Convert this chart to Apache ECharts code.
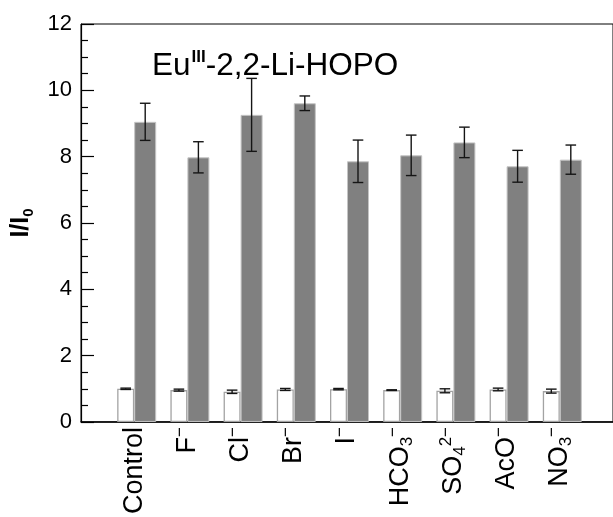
<!DOCTYPE html>
<html><head><meta charset="utf-8">
<script src="https://cdn.jsdelivr.net/npm/echarts@6/dist/echarts.min.js"></script>
<style>html,body{margin:0;padding:0;background:#fff}#c{width:613px;height:517px}</style>
</head><body><div id="c"></div>
<script>
// ---- data ----
const categories = ['Control', 'F-', 'Cl-', 'Br-', 'I-', 'HCO3-', 'SO42-', 'AcO-', 'NO3-'];
const tickLabels = ['{n|Control}', '{n|F}{sp|−}', '{n|Cl}{sp|−}', '{n|Br}{sp|−}', '{n|I}{sp|−}',
  '{n|HCO}{sb|3}{sp|−}', '{n|SO}{sb|4}{sp|2−}', '{n|AcO}{sp|−}', '{n|NO}{sb|3}{sp|−}'];
const before = [1.00, 0.96, 0.91, 0.98, 0.99, 0.96, 0.94, 0.98, 0.93];
const beforeErr = [0.02, 0.03, 0.05, 0.03, 0.02, 0.01, 0.06, 0.04, 0.06];
const after = [9.05, 7.98, 9.26, 9.61, 7.86, 8.04, 8.43, 7.71, 7.91];
const afterErr = [0.56, 0.47, 1.10, 0.22, 0.64, 0.61, 0.46, 0.48, 0.44];
const yTickValues = [0, 2, 4, 6, 8, 10, 12];

// ---- chart ----
const axisCats = [''].concat(categories, ['']);
const pad = arr => [null].concat(arr, [null]);
const FONT = 'Liberation Sans, Arial, sans-serif';
const W_SPACER = 5, W_WHITE = 17, W_GRAY = 22;

function errSeries(vals, errs, offset) {
  return {
    type: 'custom', z: 10, silent: true,
    renderItem: function (params, api) {
      const x = api.value(0), lo = api.value(1), hi = api.value(2);
      const pLo = api.coord([x, lo]), pHi = api.coord([x, hi]);
      const cx = pLo[0] + offset, hw = 5.3;
      const st = { stroke: '#151515', lineWidth: 1.4 };
      return { type: 'group', children: [
        { type: 'line', shape: { x1: cx, y1: pHi[1], x2: cx, y2: pLo[1] }, style: st },
        { type: 'line', shape: { x1: cx - hw, y1: pHi[1], x2: cx + hw, y2: pHi[1] }, style: st },
        { type: 'line', shape: { x1: cx - hw, y1: pLo[1], x2: cx + hw, y2: pLo[1] }, style: st }
      ]};
    },
    encode: { x: 0, y: [1, 2] },
    data: vals.map((v, i) => [i + 1, v - errs[i], v + errs[i]])
  };
}

const chart = echarts.init(document.getElementById('c'), null, { renderer: 'canvas' });
chart.setOption({
  animation: false,
  backgroundColor: '#fff',
  textStyle: { fontFamily: FONT },
  title: {
    text: '{a|Eu}{s|III}{a|-2,2-Li-HOPO}',
    left: 147, top: 42,
    textStyle: {
      fontWeight: 'normal',
      rich: {
        a: { fontFamily: FONT, fontSize: 31.5, fontWeight: 'normal', color: '#000', lineHeight: 35, verticalAlign: 'bottom' },
        s: { fontFamily: FONT, fontSize: 17, fontWeight: 'bold', color: '#000', lineHeight: 17, verticalAlign: 'top', padding: [2, 0, 0, 1] }
      }
    }
  },
  grid: { left: 81, top: 24, width: 537.5, height: 399, show: true, borderColor: '#000', borderWidth: 1, containLabel: false },
  xAxis: {
    type: 'category', data: axisCats, boundaryGap: false,
    axisLine: { show: true, lineStyle: { color: '#000', width: 1.5 } },
    axisTick: { show: false },
    axisLabel: {
      rotate: 90, margin: 5, interval: 0, color: '#000',
      formatter: (v, i) => (i === 0 || i === axisCats.length - 1) ? '' : tickLabels[i - 1],
      rich: {
        n: { fontFamily: FONT, fontSize: 27, color: '#000', lineHeight: 31 },
        sp: { fontFamily: FONT, fontSize: 17, color: '#000', lineHeight: 16, verticalAlign: 'top' },
        sb: { fontFamily: FONT, fontSize: 17, color: '#000', lineHeight: 16, verticalAlign: 'bottom' }
      }
    },
    splitLine: { show: false }
  },
  yAxis: {
    type: 'value', min: yTickValues[0], max: yTickValues[yTickValues.length - 1],
    interval: yTickValues[1] - yTickValues[0],
    name: '{a|I/I}{s|0}', nameLocation: 'middle', nameGap: 31, nameRotate: 90,
    nameTextStyle: {
      fontSize: 25, fontWeight: 'bold',
      rich: {
        a: { fontFamily: FONT, fontSize: 25, fontWeight: 'bold', color: '#000', lineHeight: 28, verticalAlign: 'top' },
        s: { fontFamily: FONT, fontSize: 15, fontWeight: 'bold', color: '#000', lineHeight: 15, verticalAlign: 'bottom' }
      }
    },
    axisLine: { show: true, lineStyle: { color: '#000', width: 1.2 } },
    axisTick: { show: true, inside: true, length: 13, lineStyle: { color: '#000', width: 1.2 } },
    minorTick: { show: true, splitNumber: 4, length: 7, lineStyle: { color: '#000', width: 1.2 } },
    axisLabel: { fontFamily: FONT, fontSize: 22, color: '#000', margin: 9 },
    splitLine: { show: false }, minorSplitLine: { show: false }
  },
  series: [
    { type: 'bar', name: 'spacer', barWidth: W_SPACER, barGap: '0%', silent: true,
      itemStyle: { color: 'rgba(0,0,0,0)' }, data: axisCats.map(() => null) },
    { type: 'bar', name: 'I0', barWidth: W_WHITE, barGap: '0%',
      itemStyle: { color: '#fff', borderColor: '#a3a3a3', borderWidth: 1.3 }, data: pad(before) },
    { type: 'bar', name: 'I', barWidth: W_GRAY, barGap: '0%',
      itemStyle: { color: '#808080', borderColor: '#c4c4c4', borderWidth: 1 }, data: pad(after) },
    errSeries(before, beforeErr, -W_WHITE / 2),
    errSeries(after, afterErr, W_GRAY / 2)
  ]
});
</script></body></html>
